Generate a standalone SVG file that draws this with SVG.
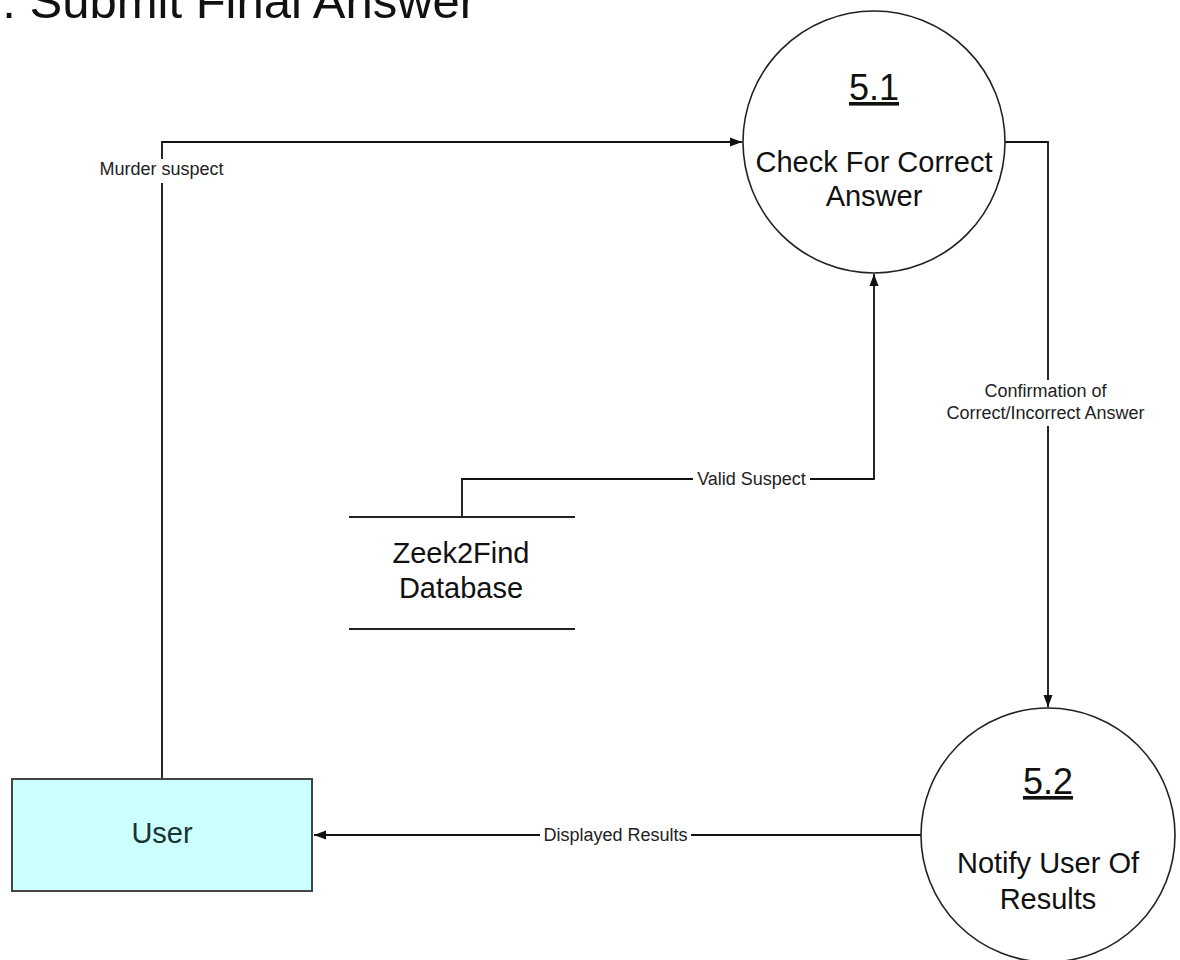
<svg xmlns="http://www.w3.org/2000/svg" width="1180" height="960" viewBox="0 0 1180 960">
<style>
  text { font-family: "Liberation Sans", Arial, sans-serif; fill: #111; }
  .title { font-size: 49px; }
  .big { font-size: 29px; text-anchor: middle; }
  .num { font-size: 36px; text-anchor: middle; text-decoration: underline; }
  .lbl { font-size: 18px; text-anchor: middle; fill: #222; }
  .proc { fill: #fff; stroke: #222; stroke-width: 1.6; }
  .store { stroke: #222; stroke-width: 2; fill: none; }
  .ext { fill: #ccffff; stroke: #444; stroke-width: 2; }
  .flow { fill: none; stroke: #111; stroke-width: 1.8; }
  .gap { fill: #fff; stroke: none; }
</style>
<defs>
  <marker id="arrow" viewBox="0 0 12 10" refX="12" refY="5" markerWidth="12" markerHeight="10" markerUnits="userSpaceOnUse" orient="auto">
    <path d="M0,0.5 L12,5 L0,9.5 Z" fill="#111"/>
  </marker>
</defs>
<rect width="1180" height="960" fill="#fff"/>
<text class="title" x="2.3" y="18">. Submit Final Answer</text>

<g id="connectors">
  <path class="flow" d="M162,779 V142 H742" marker-end="url(#arrow)"/>
  <rect class="gap" x="95" y="159" width="134" height="24"/>
  <text class="lbl" x="161.5" y="175">Murder suspect</text>

  <path class="flow" d="M1005,142 H1048 V707" marker-end="url(#arrow)"/>
  <rect class="gap" x="940" y="380" width="212" height="46"/>
  <text class="lbl" x="1045.5" y="397">Confirmation of</text>
  <text class="lbl" x="1045.5" y="419">Correct/Incorrect Answer</text>

  <path class="flow" d="M462,517 V479 H874 V274" marker-end="url(#arrow)"/>
  <rect class="gap" x="693" y="468" width="117" height="22"/>
  <text class="lbl" x="751.5" y="485">Valid Suspect</text>

  <path class="flow" d="M922,835 H314" marker-end="url(#arrow)"/>
  <rect class="gap" x="540" y="824" width="151" height="22"/>
  <text class="lbl" x="615.5" y="841">Displayed Results</text>
</g>

<g id="p51">
  <circle class="proc" cx="874" cy="142" r="131"/>
  <text class="num" x="874" y="100">5.1</text>
  <text class="big" x="874" y="172">Check For Correct</text>
  <text class="big" x="874" y="206">Answer</text>
</g>

<g id="p52">
  <circle class="proc" cx="1048" cy="835" r="127"/>
  <text class="num" x="1048" y="794">5.2</text>
  <text class="big" x="1048" y="873">Notify User Of</text>
  <text class="big" x="1048" y="909">Results</text>
</g>

<g id="db">
  <line class="store" x1="349" y1="517" x2="575" y2="517"/>
  <line class="store" x1="349" y1="629" x2="575" y2="629"/>
  <text class="big" x="461" y="563">Zeek2Find</text>
  <text class="big" x="461" y="598">Database</text>
</g>

<g id="user">
  <rect class="ext" x="12" y="779" width="300" height="112"/>
  <text class="big" x="162" y="843" style="fill:#1a3333">User</text>
</g>
</svg>
